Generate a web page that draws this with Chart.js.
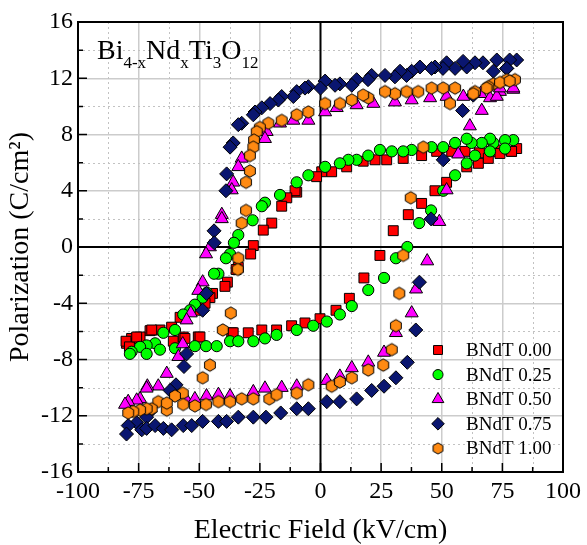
<!DOCTYPE html>
<html>
<head>
<meta charset="utf-8">
<script src="https://cdn.jsdelivr.net/npm/chart.js"></script>
<style>
  html, body { margin: 0; padding: 0; background: #fff; }
  #wrap { width: 587px; height: 545px; }
</style>
</head>
<body>
<div id="wrap"><canvas id="loops" width="587" height="545"></canvas></div>
<script>
// P-E hysteresis loops for Bi(4-x)Nd(x)Ti3O12

const seriesNames = ['BNdT 0.00', 'BNdT 0.25', 'BNdT 0.50', 'BNdT 0.75', 'BNdT 1.00'];
const xTicks = [-100, -75, -50, -25, 0, 25, 50, 75, 100];
const yTicks = [-16, -12, -8, -4, 0, 4, 8, 12, 16];

// x = 0.00 (red squares)
const fieldX000 = [80.9, 78.8, 74.7, 70.5, 65.5, 59.6, 54.1, 47.9, 41.7, 34.1, 27.3, 22.5, 17.6, 10.8, 4.6, 0.5, -1.6, -9.8, -10.5, -13.9, -16, -20.1, -23.6, -27.7, -28.8, -33.9, -34.8, -38.4, -39.4, -44.5, -45.6, -47.6, -51.3, -57.9, -61.4, -66.2, -70.3, -74.4, -77.9, -80,
  -80.2, -78.8, -75.8, -69.6, -60.7, -56.6, -55.9, -50.4, -49.7, -36.6, -36, -29.8, -24.2, -18.1, -11.9, -6.4, -0.2, 6.4, 11.9, 17.9, 24.5, 30, 36.2, 41.7, 47.2, 52, 60.3, 65.1, 69.2, 74, 78.8];
const polY000 = [7.0, 6.8, 6.9, 6.8, 6.7, 6.8, 6.8, 6.8, 6.5, 6.3, 6.2, 6.2, 6.1, 5.7, 5.35, 5.35, 5.0, 3.9, 4.0, 3.5, 2.9, 1.7, 1.2, 0.1, -0.5, -1.45, -1.6, -2.5, -2.8, -3.3, -3.6, -4.0, -4.5, -5.0, -5.7, -5.9, -5.95, -6.4, -6.5, -6.85,
  -6.7, -7.1, -6.4, -5.9, -6.7, -6.4, -6.5, -6.4, -6.4, -6.1, -6.1, -6.1, -5.9, -5.9, -5.6, -5.4, -5.1, -4.5, -3.65, -2.2, -0.6, 1.16, 2.3, 3.1, 4.0, 4.6, 5.7, 5.95, 6.3, 6.65, 6.8];

// x = 0.25 (green circles)
const fieldX025 = [79.5, 76.1, 71.3, 69.9, 66.5, 62.3, 60.3, 55.5, 50.6, 45.8, 37.6, 34.1, 29.4, 24.5, 19.7, 14.9, 11.5, 8, 1.9, -5, -9.8, -16.7, -22.9, -24.2, -28, -33.9, -35.7, -37.3, -39, -42.1, -43.9, -46.9, -48.6, -51.8, -53.8, -56.6, -60, -64.8, -68.2, -71.7, -74.4, -77.9, -78.6,
  -71.7, -66.2, -60, -51.8, -47.2, -42.8, -37.3, -33.9, -27.7, -22.9, -18.1, -9.8, -3, 2.6, 8, 12.9, 19.7, 26.2, 31.1, 35.8, 40.7, 45.6, 50.6, 55.5, 60.3, 63.7, 69.9, 76.1];
const polY025 = [7.6, 7.6, 7.4, 7.7, 7.4, 7.4, 7.7, 7.4, 7.1, 7.1, 6.9, 6.8, 6.8, 6.9, 6.5, 6.2, 6.2, 5.95, 5.7, 5.1, 4.6, 3.7, 3.15, 2.9, 1.9, 0.85, 0.3, -0.5, -0.8, -1.9, -1.9, -3.25, -3.6, -4.1, -4.5, -4.8, -5.9, -6.1, -6.85, -7.0, -7.1, -7.45, -7.6,
  -7.6, -7.3, -7.2, -7.05, -7.05, -7.05, -6.7, -6.7, -6.7, -6.5, -6.25, -5.9, -5.6, -5.3, -4.8, -4.2, -3.06, -2.2, -0.8, 0.0, 1.7, 2.6, 4.0, 5.1, 5.95, 6.5, 6.8, 7.0];

// x = 0.50 (magenta triangles)
const fieldX050 = [79.5, 74, 66, 58.9, 52, 45.2, 37.6, 30.7, 21.8, 14.9, 6.7, 1.9, -5, -11.2, -16.7, -22.2, -22.9, -32.5, -33.9, -36, -36.6, -40.7, -40.7, -45.6, -47.2, -48.6, -50.4, -53.5, -55.2, -56.8, -58.6, -63.4, -66.9, -71.4, -74.4, -75.8, -79.3, -80.6,
  -71.7, -55.2, -51.8, -47, -42.1, -37.3, -27.7, -22.9, -16, -9.8, 2.6, 8, 12.9, 19.7, 26.2, 31.1, 37.6, 39.4, 44, 49, 52, 56.8, 61.6, 66.5, 69.9, 72.7, 74, 79.5];
const polY050 = [11.2, 11.05, 10.9, 10.7, 10.7, 10.6, 10.45, 10.3, 10.2, 10.1, 9.9, 9.6, 9.0, 9.0, 8.8, 8.2, 7.7, 6.3, 5.7, 4.6, 4.05, 2.3, 2.0, 0.0, -0.5, -2.5, -3.1, -4.7, -5.2, -6.9, -7.8, -9.0, -9.9, -9.9, -10.8, -10.9, -11.0, -11.2,
  -10.05, -10.9, -10.8, -10.6, -10.5, -10.6, -10.3, -10.05, -10.0, -9.9, -9.5, -9.2, -8.6, -8.2, -7.5, -6.1, -4.7, -3.0, -1.0, 1.8, 4.05, 6.6, 8.6, 9.7, 10.6, 10.7, 11.3, 11.3];

// x = 0.75 (navy diamonds)
const fieldX075 = [80.9, 78, 76.8, 72.7, 67, 63.7, 60.3, 58.8, 55.5, 52, 50.5, 47.2, 45.8, 41, 37.6, 35.5, 32.8, 30.7, 26.6, 21.1, 19.6, 14.9, 12.9, 8, 6, 1.9, 0, -5, -6.4, -9.8, -11.2, -16, -17.4, -20.8, -24.2, -27, -27.7, -32.5, -33.9, -36, -37.3, -38.7, -39, -43.9, -43.8, -47, -48.6, -55.2, -56.3, -59.6, -62, -70.3, -71.7, -75.8, -79.3, -80,
  -73.7, -71.7, -68.2, -64.8, -61.4, -56.6, -53.1, -48.6, -42.1, -38.7, -33.9, -27.7, -22.5, -16.4, -9.8, -5, 2.6, 8, 14.9, 21.1, 26.2, 31.1, 35.8, 39.3, 40.8, 45.6, 50.6, 58.6, 63, 71.3, 76.8];
const polY075 = [13.3, 13.3, 12.7, 13.3, 13.1, 13.1, 12.8, 13.2, 12.7, 13.1, 12.7, 12.8, 12.7, 12.8, 12.5, 12.2, 12.5, 12.1, 12.2, 12.2, 11.9, 11.9, 11.5, 11.6, 11.5, 11.8, 11.3, 11.4, 11.3, 11.05, 10.7, 10.7, 10.45, 10.2, 9.9, 9.6, 9.4, 8.8, 8.7, 7.4, 7.1, 5.2, 4.0, 1.15, 0.3, -3.3, -4.5, -7.6, -8.5, -9.8, -10.2, -11.7, -12.1, -12.5, -12.7, -13.3,
  -13.0, -12.9, -12.7, -12.9, -13.0, -12.7, -12.7, -12.4, -12.4, -12.4, -12.1, -12.1, -12.1, -11.8, -11.5, -11.5, -11.0, -11.0, -10.8, -10.2, -9.9, -9.3, -8.2, -5.9, -2.5, 2.0, 6.2, 9.7, 10.8, 12.5, 12.7];

// x = 1.00 (orange hexagons)
const fieldX100 = [80.2, 76.8, 71.3, 69.2, 63.7, 55.5, 50.6, 45.8, 40.3, 35.5, 30.7, 26.6, 19.7, 17.6, 12.9, 8, 1.9, -5, -9.8, -16, -21.5, -25, -26.3, -27.4, -27.7, -29.1, -29.1, -30.7, -30.7, -32.5, -33.9, -34.1, -37, -40.3, -45.6, -48.6, -56.8, -60, -63.4, -66.9, -69.6, -71.7, -74.4, -77.2, -79.3,
  -63.4, -56.6, -51.8, -47.2, -42.1, -37.3, -32.5, -27.7, -21.1, -18.1, -9.8, -5, 4.6, 8, 12.9, 19.7, 25.9, 29.4, 31.1, 32.5, 34.1, 37.2, 42.4, 53.4, 63, 68.5, 74, 78];
const polY100 = [11.9, 11.9, 11.6, 11.4, 11.05, 11.3, 11.3, 11.3, 11.05, 11.05, 10.9, 11.05, 10.6, 10.8, 10.45, 10.2, 10.2, 9.6, 9.4, 9.0, 8.8, 8.5, 8.2, 7.6, 7.1, 6.5, 5.4, 4.6, 2.6, 1.7, -0.8, -1.6, -4.7, -5.9, -8.4, -9.3, -10.4, -10.6, -11.6, -11.0, -11.5, -11.5, -11.6, -11.7, -11.8,
  -11.1, -11.2, -11.3, -11.2, -11.0, -11.0, -10.8, -10.8, -10.8, -10.5, -10.4, -9.8, -9.9, -9.6, -9.3, -8.75, -8.4, -7.3, -5.6, -3.3, -0.6, 3.5, 7.1, 10.2, 10.9, 11.3, 11.7, 11.8];

const fieldSets = [fieldX000, fieldX025, fieldX050, fieldX075, fieldX100];
const polSets = [polY000, polY025, polY050, polY075, polY100];

const SERIF = "'Liberation Serif', 'Times New Roman', serif";

// hexagon marker, pointy top, as an image for pointStyle
function hexagon(r, fill) {
  const c = document.createElement('canvas');
  const s = Math.ceil(r * 2 + 3);
  c.width = s; c.height = s;
  const g = c.getContext('2d');
  g.beginPath();
  for (let k = 0; k < 6; k++) {
    const a = Math.PI / 3 * k - Math.PI / 2;
    const px = s / 2 + r * Math.cos(a), py = s / 2 + r * Math.sin(a);
    if (k === 0) g.moveTo(px, py); else g.lineTo(px, py);
  }
  g.closePath();
  g.fillStyle = fill;
  g.fill();
  g.lineWidth = 1;
  g.strokeStyle = '#000';
  g.stroke();
  return c;
}

const colors = ['#ff0000', '#00ff00', '#ff00ff', '#0a1670', '#ff8a12'];
const styles = ['rect', 'circle', 'triangle', 'rectRot', hexagon(6.2, colors[4])];
const legendStyles = ['rect', 'circle', 'triangle', 'rectRot', hexagon(5.6, colors[4])];
const radii = [7, 5.6, 7.5, 7, 6.2];

const datasets = seriesNames.map((name, i) => ({
  label: name,
  data: fieldSets[i].map((v, j) => ({ x: v, y: polSets[i][j] })),
  pointStyle: styles[i],
  pointRadius: radii[i],
  pointBackgroundColor: colors[i],
  pointBorderColor: '#000',
  pointBorderWidth: 1,
  showLine: false,
  order: 4 - i
}));

const plotDecor = {
  id: 'plotDecor',
  beforeDatasetsDraw(chart) {
    const { ctx, chartArea: a, scales: { x, y } } = chart;
    ctx.save();
    // dotted minor grid
    ctx.lineWidth = 1;
    ctx.strokeStyle = '#c2c2c2';
    ctx.setLineDash([2, 3]);
    ctx.beginPath();
    for (let v = x.min + 12.5; v < x.max; v += 25) {
      const px = Math.round(x.getPixelForValue(v)) + 0.5;
      ctx.moveTo(px, a.top); ctx.lineTo(px, a.bottom);
    }
    for (let v = y.min + 2; v < y.max; v += 4) {
      const py = Math.round(y.getPixelForValue(v)) + 0.5;
      ctx.moveTo(a.left, py); ctx.lineTo(a.right, py);
    }
    ctx.stroke();
    ctx.setLineDash([]);
    // zero cross lines
    const x0 = x.getPixelForValue(0), y0 = y.getPixelForValue(0);
    ctx.strokeStyle = '#000';
    ctx.lineWidth = 2;
    ctx.beginPath();
    ctx.moveTo(x0, a.top); ctx.lineTo(x0, a.bottom);
    ctx.moveTo(a.left, y0); ctx.lineTo(a.right, y0);
    ctx.stroke();
    ctx.restore();
  },
  afterDatasetsDraw(chart) {
    const { ctx, chartArea: a, scales: { x, y } } = chart;
    ctx.save();
    // frame
    ctx.strokeStyle = '#000';
    ctx.lineWidth = 2;
    ctx.strokeRect(a.left, a.top, a.right - a.left, a.bottom - a.top);
    // inward ticks, major and minor
    ctx.lineWidth = 1.5;
    ctx.beginPath();
    for (let v = x.min; v <= x.max; v += 12.5) {
      const px = x.getPixelForValue(v);
      const len = (v % 25 === 0) ? 9 : 5;
      ctx.moveTo(px, a.bottom); ctx.lineTo(px, a.bottom - len);
    }
    for (let v = y.min; v <= y.max; v += 2) {
      const py = y.getPixelForValue(v);
      const len = (v % 4 === 0) ? 9 : 5;
      ctx.moveTo(a.left, py); ctx.lineTo(a.left + len, py);
    }
    ctx.stroke();

    // legend inside, lower right
    ctx.font = '19px ' + SERIF;
    ctx.textBaseline = 'middle';
    ctx.textAlign = 'left';
    seriesNames.forEach((name, i) => {
      const ly = a.bottom - 122 + i * 24.6;
      const lx = a.right - 125;
      ctx.fillStyle = colors[i];
      ctx.strokeStyle = '#000';
      ctx.lineWidth = 1;
      Chart.helpers.drawPoint(ctx, {
        pointStyle: legendStyles[i],
        radius: radii[i] * 0.9,
        borderWidth: 1
      }, lx, ly);
      ctx.fillStyle = '#000';
      ctx.fillText(name, lx + 28, ly + 1);
    });

    // composition label with subscripts
    const parts = [['Bi', 0], ['4-x', 1], ['Nd', 0], ['x', 1], ['Ti', 0], ['3', 1], ['O', 0], ['12', 1]];
    let tx = a.left + 19;
    const base = a.top + 37;
    ctx.fillStyle = '#000';
    ctx.textBaseline = 'alphabetic';
    parts.forEach(([t, sub]) => {
      ctx.font = (sub ? '17px ' : '28px ') + SERIF;
      ctx.fillText(t, tx, sub ? base + 9 : base);
      tx += ctx.measureText(t).width;
    });
    ctx.restore();
  }
};

new Chart(document.getElementById('loops'), {
  type: 'scatter',
  data: { datasets },
  options: {
    responsive: false,
    animation: false,
    events: [],
    layout: { padding: { top: 22, right: 24, left: 0, bottom: 0 } },
    plugins: { legend: { display: false }, tooltip: { enabled: false } },
    scales: {
      x: {
        type: 'linear',
        min: -100,
        max: 100,
        afterBuildTicks: s => { s.ticks = xTicks.map(v => ({ value: v })); },
        afterFit: s => { s.height = 73; },
        ticks: { color: '#000', padding: 5, font: { family: SERIF, size: 24 } },
        grid: {
          drawTicks: false,
          lineWidth: 1.5,
          color: c => (c.tick && (c.tick.value === 0 || Math.abs(c.tick.value) === 100)) ? 'rgba(0,0,0,0)' : '#cccccc'
        },
        border: { display: false },
        title: {
          display: true,
          text: 'Electric Field (kV/cm)',
          color: '#000',
          padding: { top: 0, bottom: 0 },
          font: { family: SERIF, size: 28, lineHeight: 1 }
        }
      },
      y: {
        type: 'linear',
        min: -16,
        max: 16,
        afterBuildTicks: s => { s.ticks = yTicks.map(v => ({ value: v })); },
        afterFit: s => { s.width = 78; },
        ticks: { color: '#000', padding: 5, font: { family: SERIF, size: 24 } },
        grid: {
          drawTicks: false,
          lineWidth: 1.5,
          color: c => (c.tick && (c.tick.value === 0 || Math.abs(c.tick.value) === 16)) ? 'rgba(0,0,0,0)' : '#cccccc'
        },
        border: { display: false },
        title: {
          display: true,
          text: 'Polarization (C/cm²)',
          color: '#000',
          padding: { top: 7, bottom: 0 },
          font: { family: SERIF, size: 28, lineHeight: 1 }
        }
      }
    }
  },
  plugins: [plotDecor]
});
</script>
</body>
</html>
